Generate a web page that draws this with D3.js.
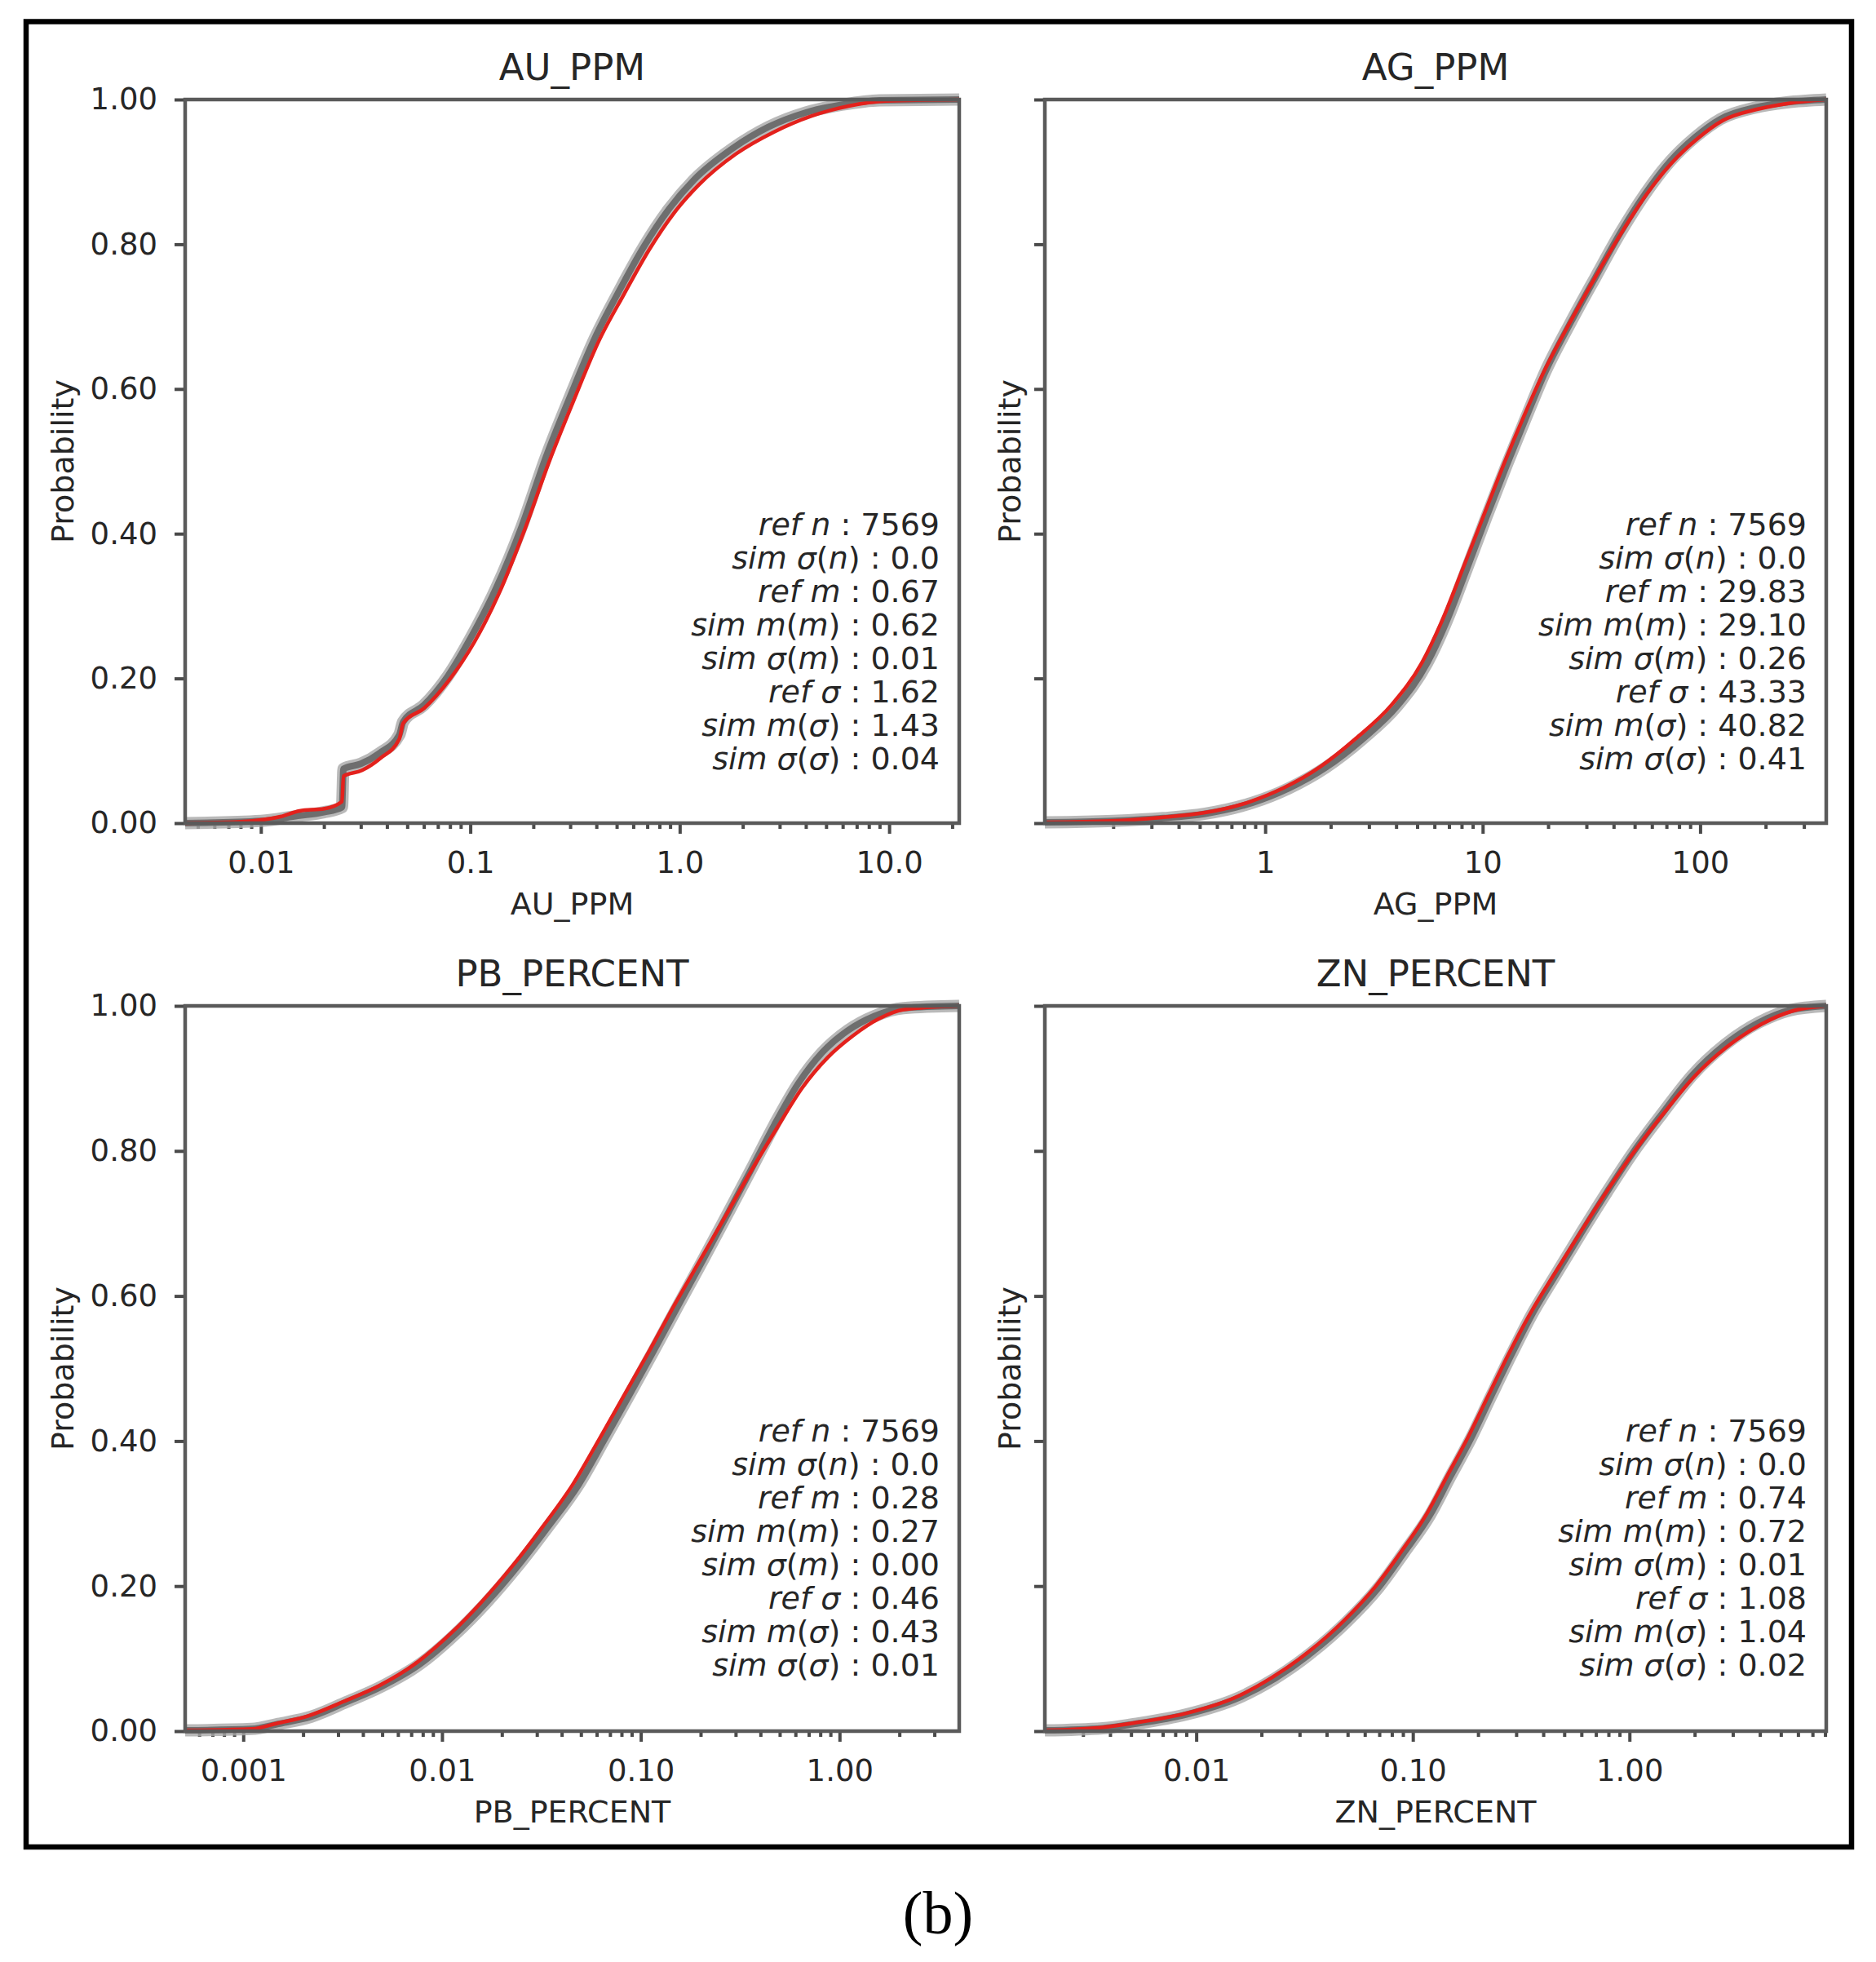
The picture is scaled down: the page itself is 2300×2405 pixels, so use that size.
<!DOCTYPE html>
<html lang="en">
<head>
  <meta charset="UTF-8">
  <title>Reference vs simulated CDFs</title>
  <script src="https://d3js.org/d3.v7.min.js"></script>
  <style>
    body { margin: 0; background: #fff; }
    text { font-family: "DejaVu Sans", sans-serif; fill: #262626; }
    .spine { fill: none; stroke: #5a5a5a; stroke-width: 4.5px; }
    .tick line { stroke: #4a4a4a; stroke-width: 4px; }
    .domain { display: none; }
  </style>
</head>
<body>
<svg id="chart" width="2300" height="2405"></svg>
<script>
  // panel names and axis ranges
  const panelNames = ["AU_PPM", "AG_PPM", "PB_PERCENT", "ZN_PERCENT"];
  const xDomains = [[0.00435, 21.6], [0.097, 380], [0.00051, 4.0], [0.002, 8.1]];
  const xTickValues = [[0.01, 0.1, 1, 10], [1, 10, 100], [0.001, 0.01, 0.1, 1], [0.01, 0.1, 1]];
  const xTickLabels = [["0.01", "0.1", "1.0", "10.0"], ["1", "10", "100"],
                       ["0.001", "0.01", "0.10", "1.00"], ["0.01", "0.10", "1.00"]];
  const yTickValues = [0, 0.2, 0.4, 0.6, 0.8, 1.0];
  const yTickLabels = ["0.00", "0.20", "0.40", "0.60", "0.80", "1.00"];

  // stats text in each panel
  const statLabels = ["ref n", "sim σ(n)", "ref m", "sim m(m)", "sim σ(m)", "ref σ", "sim m(σ)", "sim σ(σ)"];
  const statAU = ["7569", "0.0", "0.67", "0.62", "0.01", "1.62", "1.43", "0.04"];
  const statAG = ["7569", "0.0", "29.83", "29.10", "0.26", "43.33", "40.82", "0.41"];
  const statPB = ["7569", "0.0", "0.28", "0.27", "0.00", "0.46", "0.43", "0.01"];
  const statZN = ["7569", "0.0", "0.74", "0.72", "0.01", "1.08", "1.04", "0.02"];

  // reference CDFs (red), [value, probability]
  const refAU = [[0.00435,0],[0.008,0.002],[0.0124,0.009],[0.0153,0.017],[0.0201,0.02],[0.0244,0.03],
    [0.0248,0.065],[0.0304,0.073],[0.0373,0.09],[0.0458,0.116],[0.0478,0.138],[0.0603,0.159],
    [0.0794,0.198],[0.1045,0.25],[0.1374,0.318],[0.181,0.404],[0.2377,0.499],[0.3126,0.585],
    [0.412,0.667],[0.542,0.731],[0.713,0.792],[0.938,0.843],[1.233,0.882],[1.86,0.925],
    [2.81,0.955],[4.24,0.977],[6.4,0.991],[9.66,0.998],[21.6,1.0]];
  const refAG = [[0.097,0.001],[0.195,0.003],[0.334,0.008],[0.515,0.014],[0.838,0.029],[1.22,0.049],
    [1.79,0.078],[2.61,0.117],[3.8,0.163],[5.26,0.222],[6.53,0.281],[8.11,0.352],[10.07,0.424],
    [12.5,0.496],[15.5,0.563],[19.2,0.625],[25.2,0.692],[33.0,0.755],[43.3,0.815],[56.7,0.869],
    [74.3,0.913],[97.2,0.946],[127,0.971],[186,0.987],[257,0.995],[380,1.0]];
  const refPB = [[0.00051,0.001],[0.00111,0.003],[0.00149,0.011],[0.00212,0.021],[0.00321,0.041],
    [0.00485,0.063],[0.00733,0.093],[0.0111,0.135],[0.0158,0.178],[0.0225,0.227],[0.0321,0.282],
    [0.0457,0.341],[0.0613,0.401],[0.0824,0.463],[0.1107,0.525],[0.1486,0.589],[0.1995,0.65],
    [0.268,0.711],[0.36,0.773],[0.483,0.831],[0.649,0.887],[0.873,0.929],[1.17,0.959],
    [1.57,0.982],[2.11,0.995],[4.0,1.0]];
  const refZN = [[0.002,0.001],[0.00368,0.005],[0.0051,0.011],[0.00883,0.024],[0.01527,0.047],
    [0.0224,0.074],[0.0329,0.109],[0.0483,0.153],[0.067,0.199],[0.0881,0.247],[0.116,0.3],
    [0.144,0.352],[0.1795,0.405],[0.224,0.464],[0.279,0.522],[0.347,0.575],[0.456,0.633],
    [0.6,0.69],[0.789,0.745],[1.04,0.797],[1.44,0.852],[2.0,0.903],[2.78,0.942],[4.08,0.975],
    [5.66,0.993],[8.1,1.0]];

  // simulated CDF band (grey)
  const simAU = [[0.00435,0],[0.01,0.003],[0.015,0.01],[0.02,0.015],[0.0244,0.022],[0.0248,0.075],
    [0.03,0.082],[0.037,0.097],[0.0458,0.122],[0.0478,0.14],[0.06,0.163],[0.078,0.203],[0.1,0.255],
    [0.133,0.325],[0.176,0.41],[0.229,0.505],[0.3,0.59],[0.393,0.67],[0.515,0.736],[0.675,0.797],
    [0.885,0.848],[1.17,0.889],[1.78,0.932],[2.65,0.962],[4.0,0.982],[6.0,0.993],[9.0,0.999],[21.6,1.0]];
  const simAG = [[0.097,0.001],[0.2,0.003],[0.34,0.007],[0.53,0.013],[0.87,0.028],[1.28,0.048],
    [1.9,0.077],[2.8,0.116],[4.05,0.162],[5.55,0.221],[6.85,0.28],[8.45,0.351],[10.4,0.423],
    [12.9,0.495],[15.9,0.562],[19.5,0.625],[25.4,0.692],[33.1,0.755],[43.0,0.816],[56,0.87],
    [73,0.915],[95,0.948],[124,0.973],[180,0.989],[250,0.996],[380,1.0]];
  const simPB = [[0.00051,0.001],[0.0011,0.003],[0.0015,0.01],[0.0022,0.02],[0.0033,0.04],
    [0.005,0.062],[0.0077,0.092],[0.0117,0.134],[0.0167,0.177],[0.0238,0.226],[0.034,0.281],
    [0.0487,0.34],[0.065,0.4],[0.087,0.462],[0.116,0.524],[0.155,0.588],[0.206,0.65],
    [0.272,0.712],[0.36,0.775],[0.47,0.836],[0.62,0.893],[0.82,0.936],[1.1,0.966],[1.5,0.986],
    [2.1,0.997],[4.0,1.0]];
  const simZN = [[0.002,0.001],[0.0037,0.004],[0.0052,0.01],[0.009,0.023],[0.0157,0.046],
    [0.0232,0.073],[0.034,0.108],[0.05,0.152],[0.0695,0.198],[0.091,0.246],[0.12,0.298],
    [0.149,0.351],[0.185,0.403],[0.23,0.462],[0.286,0.52],[0.354,0.574],[0.463,0.632],
    [0.605,0.689],[0.79,0.744],[1.035,0.797],[1.42,0.852],[1.96,0.905],[2.72,0.945],
    [3.95,0.977],[5.5,0.994],[8.1,1.0]];

  const refData = [refAU, refAG, refPB, refZN];
  const simData = [simAU, simAG, simPB, simZN];
  const statData = [statAU, statAG, statPB, statZN];

  const svg = d3.select("#chart");

  // outer frame and caption
  svg.append("rect").attr("x", 32).attr("y", 26.5).attr("width", 2238).attr("height", 2237.5)
     .attr("fill", "none").attr("stroke", "#000").attr("stroke-width", 6.5);
  svg.append("text").attr("x", 1150).attr("y", 2370).attr("text-anchor", "middle")
     .style("font-family", "'Liberation Serif', 'DejaVu Serif', serif")
     .style("font-size", "74px").style("fill", "#000").text("(b)");

  // panel boxes: left, top, width, height
  const boxes = [
    { x: 227, y: 122, w: 949, h: 887 },
    { x: 1281, y: 122, w: 958, h: 887 },
    { x: 227, y: 1233, w: 949, h: 889 },
    { x: 1281, y: 1233, w: 958, h: 889 }
  ];

  boxes.forEach((b, i) => {
    const g = svg.append("g").attr("transform", "translate(" + b.x + "," + b.y + ")");
    const x = d3.scaleLog().domain(xDomains[i]).range([0, b.w]);
    const y = d3.scaleLinear().domain([0, 1]).range([b.h, 0]);
    const showY = (i % 2 === 0);

    // minor log ticks 2..9 inside domain
    const minor = [];
    for (let e = -5; e <= 4; e++) {
      for (let k = 2; k <= 9; k++) {
        const v = k * Math.pow(10, e);
        if (v > xDomains[i][0] && v < xDomains[i][1]) minor.push(v);
      }
    }

    g.append("g").attr("transform", "translate(0," + b.h + ")")
      .call(d3.axisBottom(x).tickValues(minor).tickFormat("").tickSize(7));
    const xAxis = g.append("g").attr("transform", "translate(0," + b.h + ")")
      .call(d3.axisBottom(x).tickValues(xTickValues[i])
        .tickFormat((d, j) => xTickLabels[i][j]).tickSize(13).tickPadding(22));
    xAxis.selectAll("text").style("font-size", "37px").style("fill", "#262626")
      .style("font-family", "'DejaVu Sans', sans-serif");

    const yAxis = g.append("g")
      .call(d3.axisLeft(y).tickValues(yTickValues)
        .tickFormat((d, j) => showY ? yTickLabels[j] : "").tickSize(13).tickPadding(21));
    yAxis.selectAll("text").style("font-size", "37px").style("fill", "#262626")
      .style("font-family", "'DejaVu Sans', sans-serif");

    // curves
    const line = d3.line().x(d => x(d[0])).y(d => y(d[1])).curve(d3.curveMonotoneX);
    g.append("path").datum(simData[i]).attr("d", line)
      .attr("fill", "none").attr("stroke", "#a8a8a8").attr("stroke-width", 15)
      .attr("stroke-linejoin", "round").attr("opacity", 0.8);
    g.append("path").datum(simData[i]).attr("d", line)
      .attr("fill", "none").attr("stroke", "#6e6e6e").attr("stroke-width", 8)
      .attr("stroke-linejoin", "round");
    g.append("path").datum(refData[i]).attr("d", line)
      .attr("fill", "none").attr("stroke", "#e3211c").attr("stroke-width", 4.5)
      .attr("stroke-linejoin", "round");

    g.append("rect").attr("class", "spine").attr("width", b.w).attr("height", b.h);

    // titles and axis labels
    g.append("text").attr("x", b.w / 2).attr("y", -24).attr("text-anchor", "middle")
      .style("font-size", "45px").text(panelNames[i]);
    g.append("text").attr("x", b.w / 2).attr("y", b.h + 112).attr("text-anchor", "middle")
      .style("font-size", "38px").text(panelNames[i]);
    const yl = showY ? -137 : -30;
    g.append("text").attr("transform", "translate(" + yl + "," + (b.h / 2) + ") rotate(-90)")
      .attr("text-anchor", "middle").style("font-size", "38px").text("Probability");

    // stats block, italic letters, upright numbers
    statLabels.forEach((lab, j) => {
      const t = g.append("text").attr("x", b.w - 24).attr("y", 534 + j * 41)
        .attr("text-anchor", "end").style("font-size", "38px");
      lab.split(/([A-Za-zσ ]+)/).filter(s => s.length).forEach(s => {
        t.append("tspan").style("font-style", /[A-Za-zσ]/.test(s) ? "italic" : "normal").text(s);
      });
      t.append("tspan").text(" : " + statData[i][j]);
    });
  });
</script>
</body>
</html>
